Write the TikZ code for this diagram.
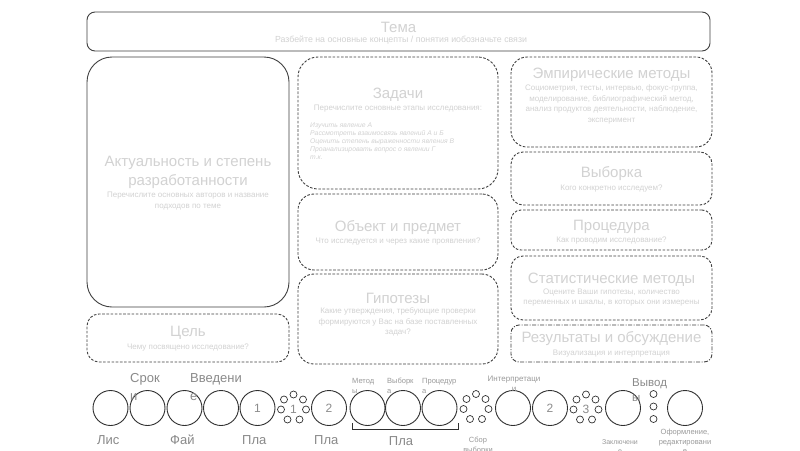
\documentclass[tikz,border=0pt]{standalone}
\usepackage{fontspec}
\setmainfont{Liberation Sans}
\definecolor{lc}{HTML}{404040}
\definecolor{tc}{HTML}{D2D2D2}
\definecolor{cc}{HTML}{303030}
\definecolor{numc}{HTML}{8C8C8C}
\definecolor{labc}{HTML}{8A8A8A}
\definecolor{slab}{HTML}{9A9A9A}
\begin{document}
\begin{tikzpicture}[x=1pt,y=-1pt,
  box/.style={draw=lc, line width=0.9pt, rounded corners=#1, inner sep=0pt},
  dbox/.style={box=#1, dash pattern=on 2.6pt off 1.6pt},
  ddbox/.style={box=#1, dash pattern=on 4pt off 1.5pt on 1pt off 1.5pt},
  ttl/.style={text=tc, font=\fontsize{15}{19}\selectfont, inner sep=0pt, align=center},
  sub/.style={text=tc, font=\fontsize{8}{10.5}\selectfont, inner sep=0pt, align=center},
  lst/.style={text=tc, font=\itshape\fontsize{6.8}{8}\selectfont, inner sep=0pt, align=left, anchor=north west},
  bigc/.style={circle, draw=cc, line width=0.9pt, minimum size=35pt, inner sep=0pt, text=numc, font=\fontsize{12}{14}\selectfont},
  smc/.style={circle, draw=cc, line width=0.7pt, minimum size=7pt, inner sep=0pt},
  ringnum/.style={text=numc, font=\fontsize{12}{14}\selectfont, inner sep=0pt},
  lab/.style={text=labc, font=\fontsize{13}{18}\selectfont, inner sep=0pt, align=left},
  slb/.style={text=slab, font=\fontsize{7.5}{10}\selectfont, inner sep=0pt},
]
\fill[white] (0,0) rectangle (800,450);
\useasboundingbox (0,0) rectangle (800,450);

% ---------- boxes ----------
\node[box=8pt, minimum width=623pt, minimum height=39pt] (tema) at (398.5,31.5) {};
\node[box=25pt, minimum width=202pt, minimum height=250pt] (akt) at (188,182) {};
\node[dbox=12pt, minimum width=202pt, minimum height=48pt] (cel) at (188,338) {};
\node[dbox=20pt, minimum width=200pt, minimum height=132pt] (zad) at (398,123) {};
\node[dbox=16pt, minimum width=200pt, minimum height=76pt] (obj) at (398,232) {};
\node[dbox=16pt, minimum width=200pt, minimum height=90pt] (gip) at (398,319) {};
\node[dbox=16pt, minimum width=201pt, minimum height=90pt] (emp) at (611.5,102) {};
\node[dbox=12pt, minimum width=201pt, minimum height=53pt] (vyb) at (611.5,178.5) {};
\node[dbox=10pt, minimum width=201pt, minimum height=40pt] (proc) at (611.5,230) {};
\node[dbox=12pt, minimum width=201pt, minimum height=64pt] (stat) at (611.5,288) {};
\node[ddbox=8pt, minimum width=201pt, minimum height=37pt] (res) at (611.5,343.5) {};

% ---------- box texts ----------
\node[ttl] (temaT) at (398.5,27) {Тема};
\node[sub, font=\fontsize{8.8}{10.5}\selectfont] (temaS) at (401,40) {Разбейте на основные концепты / понятия иобозначьте связи};

\node[ttl] (aktT) at (188,172.5) {Актуальность и степень\\разработанности};
\node[sub] (aktS) at (188,201) {Перечислите основных авторов и название\\подходов по теме};

\node[ttl] (celT) at (188,333) {Цель};
\node[sub] (celS) at (188,348) {Чему посвящено исследование?};

\node[ttl] (zadT) at (398,95) {Задачи};
\node[sub] (zadS) at (398,108.5) {Перечислите основные этапы исследования:};
\node[lst] (zadL) at (310,123) {Изучить явление А\\Рассмотреть взаимосвязь явлений А и Б\\Оценить степень выраженности явления В\\Проанализировать вопрос о явлении Г\\т.к.};

\node[ttl] (objT) at (398,228) {Объект и предмет};
\node[sub] (objS) at (398,242) {Что исследуется и через какие проявления?};

\node[ttl] (gipT) at (398,298) {Гипотезы};
\node[sub] (gipS) at (398,322) {Какие утверждения, требующие проверки\\формируются у Вас на базе поставленных\\задач?};

\node[ttl] (empT) at (611.5,75) {Эмпирические методы};
\node[sub] (empS) at (611.5,104.5) {Социометрия, тесты, интервью, фокус-группа,\\моделирование, библиографический метод,\\анализ продуктов деятельности, наблюдение,\\эксперимент};

\node[ttl] (vybT) at (611.5,174) {Выборка};
\node[sub] (vybS) at (611.5,189) {Кого конкретно исследуем?};

\node[ttl] (procT) at (611.5,227) {Процедура};
\node[sub] (procS) at (611.5,241) {Как проводим исследование?};

\node[ttl] (statT) at (611.5,280) {Статистические методы};
\node[sub] (statS) at (611.5,297.5) {Оцените Ваши гипотезы, количество\\переменных и шкалы, в которых они измерены};

\node[ttl] (resT) at (611.5,339) {Результаты и обсуждение};
\node[sub] (resS) at (611.5,354) {Визуализация и интерпретация};

% ---------- bottom timeline ----------
\node[bigc] (c1) at (110.5,408) {};
\node[bigc] (c2) at (147.5,408) {};
\node[bigc] (c3) at (184.5,408) {};
\node[bigc] (c4) at (221,408) {};
\node[bigc] (c5) at (257.5,408) {1};
\node[ringnum] (ringA) at (293.5,409) {1};
\node[bigc] (c6) at (329,408) {2};
\node[bigc] (c7) at (367.5,408) {};
\node[bigc] (c8) at (403,408) {};
\node[bigc] (c9) at (439.5,408) {};
\coordinate (ringB) at (476,408.5);
\node[bigc] (c10) at (513,408) {};
\node[bigc] (c11) at (550,408) {2};
\node[ringnum] (ringC) at (586,409) {3};
\node[bigc] (c12) at (623,408) {};
\node[bigc] (c13) at (685,408) {};

\foreach \dx/\dy [count=\k] in {0/-14.5, 9.5/-9.5, 12.5/0.5, 6/10.5, -6/10.5, -12.5/0.5, -9.5/-9.5} {
  \node[smc] (ra\k) at ([shift={(\dx,\dy)}]ringA) {};
  \node[smc] (rb\k) at ([shift={(\dx,\dy)}]ringB) {};
  \node[smc] (rc\k) at ([shift={(\dx,\dy)}]ringC) {};
}
\node[smc] (col1) at (653.5,394) {};
\node[smc] (col2) at (653.5,406.5) {};
\node[smc] (col3) at (653.5,419) {};

% bracket under methods
\coordinate (bl) at (352,423);
\coordinate (br) at (458,423);
\draw[cc, line width=0.8pt] (bl) -- ++(0,6) -| (br);

% labels
\node[lab, anchor=north west] (lSrok) at (130,373) {Срок\\и};
\node[lab, anchor=north west] (lVved) at (190,373) {Введени\\е};
\node[lab, anchor=west] (lLis) at (97,440) {Лис};
\node[lab, anchor=west] (lFaj) at (170,440) {Фай};
\node[lab, anchor=west] (lPla1) at (242,440) {Пла};
\node[lab, anchor=west] (lPla2) at (314,440) {Пла};
\node[lab] (lPla3) at (401,441) {Пла};

\node[slb, align=left, anchor=north west] (lMet) at (352,378) {Метод\\ы};
\node[slb, align=left, anchor=north west] (lVyb) at (387,378) {Выборк\\а};
\node[slb, align=left, anchor=north west] (lProc) at (422,378) {Процедур\\а};
\node[slb, align=center, anchor=north, font=\fontsize{8}{10}\selectfont] (lInt) at (514,376) {Интерпретаци\\и};
\node[slb, align=center, anchor=north] (lSbor) at (478,437) {Сбор\\выборки};
\node[lab, anchor=north west, font=\fontsize{11.5}{15}\selectfont] (lVyv) at (632,378) {Вывод\\ы};
\node[slb, align=center, anchor=north, font=\fontsize{7}{9}\selectfont] (lZak) at (620,439) {Заключени\\е};
\node[slb, align=center, anchor=north, font=\fontsize{7.5}{9.5}\selectfont] (lOfo) at (685,429) {Оформление,\\редактировани\\е};
\end{tikzpicture}
\end{document}
